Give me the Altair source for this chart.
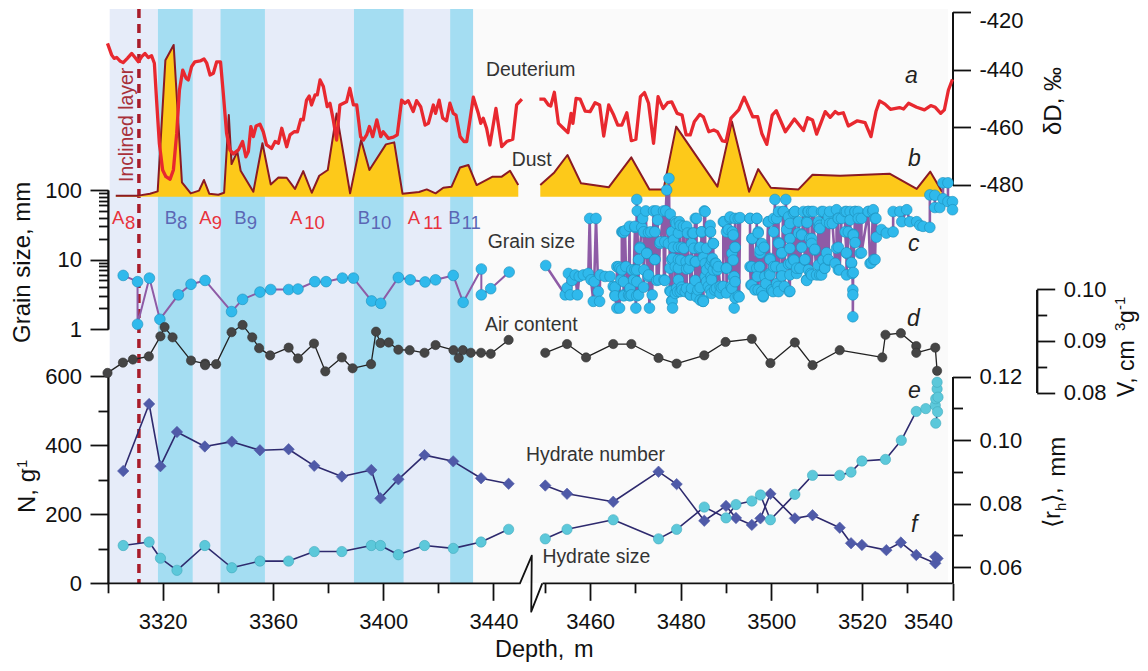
import altair as alt
import pandas as pd

FONT = "Liberation Sans"

# ---------- data ----------
light_zone = [(3300.8, 3432.6)]
blue_zones = [(3318.3, 3330.9), (3341.0, 3357.1), (3389.4, 3407.4), (3424.3, 3432.6)]
inclined_layer_depth = [3311.4]

deut_left = [(3300,-430.9),(3301.5,-434.9),(3302.4,-436.1),(3303.3,-435.8),(3304.5,-437),(3305.7,-437.6),(3307.2,-436.1),(3308.8,-434.4),(3310,-435.8),(3311.2,-437.3),(3312.4,-435.5),(3313.6,-434.4),(3314.8,-435.8),(3316,-435.2),(3317,-437.8),(3317.8,-450.6),(3318.8,-465.6),(3320,-474.9),(3321.2,-477.2),(3322.7,-478.1),(3323.9,-474.9),(3325.1,-462.2),(3326.1,-447.1),(3327.3,-440.2),(3328.5,-443),(3329.3,-443.6),(3330.5,-439),(3331.7,-437.3),(3333.6,-437),(3335,-436.3),(3336,-437.8),(3337.2,-441.9),(3338.4,-441.3),(3339.6,-437.3),(3341,-437.3),(3342,-448.3),(3343.2,-462.2),(3344.4,-467.9),(3345.6,-469.3),(3347.5,-467.9),(3349,-465),(3350.2,-470.3),(3351.1,-468.5),(3352,-459.8),(3352.9,-463.3),(3353.9,-459.6),(3355.3,-459),(3356.5,-461.6),(3357.7,-466.2),(3359.5,-467.4),(3360.8,-465),(3362,-465.6),(3363.2,-460.4),(3365,-466.8),(3366.2,-462.7),(3367.7,-461.6),(3368.9,-461.6),(3370.1,-457.3),(3371,-457.5),(3372.2,-450.6),(3373.2,-449.2),(3374,-452.3),(3375.3,-448.8),(3376.1,-448.8),(3377.1,-443.6),(3378.3,-445.9),(3379.7,-452.9),(3380.7,-451.7),(3381.9,-457.5),(3383.1,-464.5),(3384.3,-452.3),(3386.7,-451.2),(3387.9,-446.5),(3389.2,-452.3),(3390.4,-452.3),(3391.8,-463.3),(3392.8,-464.5),(3394,-462.7),(3395,-459.8),(3396.2,-463.3),(3397.7,-457.5),(3399.1,-463.3),(3400,-461.6),(3401.9,-463.9),(3403.7,-463.5),(3405.1,-462.7),(3406.7,-450.6),(3407.9,-451.7),(3409.1,-450.8),(3410.9,-454.6),(3412.1,-450.8),(3413.6,-452.9),(3415.2,-459.3),(3416.4,-458.7),(3418.2,-452.3),(3419,-455.2),(3420.3,-450.6),(3421.6,-456.9),(3423,-457.8),(3424.2,-451.7),(3425.4,-455.2),(3426.4,-455.8),(3427.9,-463.3),(3429.3,-465),(3430.3,-465),(3432.7,-449.6),(3434.5,-455.2),(3435.4,-458.7),(3436.3,-456.9),(3437.5,-460.4),(3438.7,-466.2),(3440.9,-453.5),(3443,-466.8),(3444.8,-465),(3447,-464.2),(3448.4,-452.3),(3450.3,-450.3)]
deut_right = [(3448.8,-450.3),(3449.9,-450.3),(3450.8,-452.3),(3451.3,-452.7),(3452.1,-447.9),(3453,-458.7),(3454.1,-460.4),(3455.1,-461.9),(3455.8,-455.2),(3456.2,-458.7),(3456.9,-450),(3457.8,-450.3),(3458.9,-454.4),(3460,-454.6),(3461.1,-451.5),(3462.1,-452.3),(3463,-463.1),(3464.1,-452.3),(3465.2,-455.8),(3466.1,-459.3),(3467,-459.3),(3468.1,-455),(3469.1,-464.7),(3470.1,-464.2),(3471.1,-449.4),(3472,-448),(3472.9,-451.7),(3474,-465.6),(3475,-449.4),(3476.1,-453.5),(3477.1,-451.5),(3478,-451.2),(3479.2,-455.2),(3480.3,-455.8),(3481.2,-462.7),(3482.1,-462.7),(3483,-458.1),(3484.2,-455.6),(3485,-456.4),(3486.2,-461.6),(3487.3,-461),(3488.1,-461.6),(3489.2,-464.8),(3490,-465),(3491.1,-456.9),(3492.8,-454),(3494,-449.6),(3495.9,-456.4),(3497,-456.4),(3497.9,-462.2),(3499,-466),(3500.2,-455.8),(3501.1,-454.3),(3503.1,-461.6),(3505.1,-457.2),(3507.1,-461.2),(3508,-456.7),(3509.1,-457.5),(3510,-462.4),(3511.9,-454.6),(3513,-456.6),(3514.1,-454.6),(3514.8,-455.4),(3515.9,-455),(3517,-459.6),(3519,-457.8),(3520.7,-458.4),(3522,-463.3),(3523.1,-454.6),(3523.9,-450.9),(3525.1,-452),(3526.3,-453.8),(3528.3,-453.2),(3529.2,-453.7),(3530.3,-451.7),(3532.1,-453.1),(3533.8,-454),(3535.2,-452.5),(3536.2,-453.1),(3537.4,-455.2),(3538.2,-454),(3539.1,-447.1),(3540,-443.4)]

dust_left = [(3303,0.7),(3311.2,0.7),(3315.4,2),(3318.2,3.5),(3321,90),(3324,100),(3327,9.5),(3330.2,2.2),(3333.2,4),(3335,11),(3336.9,2),(3340.2,1.3),(3342.3,2.6),(3344,53.8),(3345,21.5),(3347.1,29.7),(3348.3,17.1),(3352.9,3.3),(3356.2,35.2),(3359.2,8.1),(3362,12.7),(3365,12.5),(3368,5.1),(3371,16.9),(3374.1,2.6),(3376.8,13.8),(3379.9,17.6),(3383.1,54.9),(3388,2.2),(3392,37.4),(3395,17.6),(3401,34.5),(3404,35.8),(3407,2),(3413,3.1),(3415.8,4.8),(3419,2.2),(3421.8,5.9),(3424.8,6.6),(3427.9,19.3),(3430.9,20.9),(3433.9,7.7),(3439.7,13.2),(3443,13.2),(3446,17.1),(3449,7.7)]
dust_right = [(3449,7.7),(3452.1,16),(3455,27.5),(3458,8.8),(3464.1,6.2),(3469.1,25.9),(3473.1,4.8),(3476.2,4.8),(3479,46.2),(3488.1,6.6),(3491.3,49.5),(3495.1,3.3),(3497.1,18.2),(3499.9,5.9),(3506,4.8),(3509.1,14.5),(3515.2,13.8),(3526.1,15.2),(3532.1,5.1),(3535.1,16.5),(3537.7,3.3)]

grain_left = [(3305.7,5.9),(3310.9,4.8),(3310.9,1.17),(3315.2,5.4),(3319,1.38),(3325.7,3.1),(3330.3,4.4),(3335.4,5.0),(3345,1.78),(3349,2.67),(3355.3,3.4),(3359.2,3.7),(3365.7,3.7),(3369.1,3.76),(3375.2,4.8),(3379.3,4.8),(3385.2,5.4),(3389.2,5.4),(3395.8,2.53),(3399.1,2.34),(3405.5,5.5),(3409.8,5.1),(3415.2,4.75),(3419,5.1),(3425.4,5.9),(3429,2.42),(3435.6,7.3),(3435.6,3.1),(3439,3.8),(3445.7,6.6)]
grain_right = [(3450.2,8.2),(3454.5,3.1),(3454.9,3.9),(3455.2,6.3),(3455.6,3.1),(3456,5.0),(3456.7,6.0),(3457.2,3.1),(3457.6,5.7),(3458.5,6.0),(3459.6,6.3),(3459.9,39),(3460.2,5.1),(3460.7,2.5),(3460.9,4.8),(3461.3,39),(3461.8,3.45),(3462.1,2.5),(3462.2,6.0),(3463.3,5.7),(3464.4,5.7),(3465.1,4.1),(3465.5,3.1),(3465.9,2.0),(3466.3,7.9),(3466.5,2.0),(3466.8,5.1),(3467,7.1),(3467.2,25),(3467.4,3.1),(3467.7,26),(3467.9,7.9),(3468.5,3.1),(3469.1,3.1),(3469.6,5.1),(3469.9,29),(3470.1,2.0),(3470.3,73),(3470.4,50),(3470.3,7.1),(3470.7,3.1),(3471,15),(3471.4,29),(3471.6,39),(3471.9,7.1),(3472.3,50),(3472.5,12.3),(3472.8,5.7),(3473.1,2.0),(3473.4,25),(3473.7,3.1),(3474,50),(3474.3,10),(3474.6,50),(3474.9,37),(3475.1,5.1),(3475.5,18),(3476.2,50),(3476.3,5.1),(3476.7,50),(3476.9,100),(3477.3,17),(3477.4,147),(3477.7,45),(3477.8,3.45),(3478.1,2.5),(3478.2,2.0),(3478.2,10.4),(3478.4,19),(3478.8,7.9),(3479,33),(3479.3,3.45),(3479.5,15),(3479.7,35),(3480,9.8),(3480.3,3.65),(3480.6,30),(3480.7,14.5),(3481,3.45),(3481.2,9.3),(3481.5,24),(3481.8,7.5),(3482.2,3.1),(3482.6,24),(3482.9,14.5),(3483.3,9.3),(3483.5,39),(3483.8,3.65),(3484.1,14.5),(3484.3,2.6),(3484.6,25),(3484.9,2.5),(3485.2,50),(3485.4,8.8),(3485.7,14.5),(3486.1,4.1),(3486.5,25),(3486.7,5.7),(3487,10.4),(3487.2,17),(3487.5,3.65),(3487.8,8.8),(3488.1,7.1),(3488.7,4.1),(3489.4,4.1),(3489.6,35),(3490.1,7.5),(3490.5,27),(3490.9,39),(3491.1,4.1),(3491.4,25),(3491.6,9.8),(3491.8,5.7),(3492,15),(3491.8,2.0),(3492.7,39),(3492.9,2.9),
 (3495.3,39),(3495.5,4.3),(3495.7,7.9),(3495.8,20),(3496.4,3.65),(3496.8,39),(3496.9,5.7),(3497.1,25),(3497.4,7.9),(3497.5,12.3),(3497.9,3.45),(3498.2,2.9),(3498.4,15),(3498.8,4.5),(3499.3,35),(3499.6,6.3),(3499.7,10.4),(3500.1,3.65),(3500.4,3.45),(3500.8,73),(3501,7.9),(3501.2,39),(3501.5,4.1),(3501.7,17),(3502.3,12.3),(3502.6,49),(3502.9,4.1),(3503.2,73),(3503.4,27),(3504,3.45),(3504.3,8.8),(3504.9,47),(3505,9.8),(3505.2,49),(3505.6,6.3),(3506,24),(3506.3,7.5),(3506.7,23),(3507.1,49),(3507.4,9.8),(3507.8,5.1),(3507.9,34),(3508.1,49),(3508.7,6.3),(3508.9,20),(3509.3,49),(3509.6,13.7),(3510,6.0),(3510.4,30),(3510.7,6.0),(3511.1,49),(3511.4,9.8),(3511.8,7.5),(3512.2,35),(3512.6,9.8),(3512.9,49),(3513.5,33),(3514.1,8.8),(3514.4,14.5),(3514.8,39),(3515.1,7.1),(3515.5,39),(3516.3,49),(3516.6,12.3),(3517,25),(3517.4,49),(3517.7,8.8),(3517.9,6.3),(3518.0,3.65),(3518.0,3.1),(3518.0,1.5),(3518.1,23),(3518.5,49),(3519.2,49),(3519.6,12.3),(3519.9,39),(3521.4,49),(3521.8,8.8),(3522.4,49),(3522.6,10),(3523.1,39),(3523.2,21),(3524.3,27),(3525.4,24),(3526.9,25),(3526.9,49),(3528.4,49),(3528.8,35),(3529.9,52),(3530.6,35),(3532.1,35),(3532.8,31),(3533.5,30),(3535,29),(3535,85),(3536.1,84),(3536.1,56),(3537.2,56),(3537.9,75),(3537.9,127),(3539,127),(3539,68),(3540,68),(3540,52)]
grain_right_more_a = [(3478.8,35),(3479.9,31),(3481.3,30),(3483.2,39),(3485.4,49),(3486.5,31),(3489.4,35),(3490.9,41),(3492,39),(3493.1,40),(3478,25),(3479.5,24),(3482.8,24),(3484.6,25),(3486.6,25),(3490.1,25),(3491.6,22.5),(3475.4,17),(3476.5,18),(3478.4,15),(3480.2,15),(3482.4,17),(3484.3,15),(3487.2,17),(3492,15),(3491.3,12.3),(3478,10),(3479.5,10),(3482.1,9.8),(3483.2,9.3),(3485,10.7),(3486.8,9.8),(3487.6,8.8),(3488.3,7.9),(3490.1,7.5),(3477.6,7.5),(3479.5,7.5),(3481.3,7.3),(3485.7,7.1),(3486.5,8.3),(3487.2,7.1),(3485.4,5.7),(3474.7,5),(3476.5,5),(3479.5,5.1),(3483.2,5),(3485.7,4.8),(3486.8,5.1),(3491.6,5.5),(3492,4.8),(3477.6,3.55),(3479.1,3.85),(3480.2,4),(3481.3,3.85),(3482.4,3.85),(3484.3,3.95),(3486.5,3.65),(3487.9,3.85),(3489,3.95),(3491.3,3.85),(3478.8,3.25),(3479.9,3.45),(3482.1,3.1),(3483.5,3.1),(3485,2.6),(3486.8,3.25),(3488.7,3.25),(3490.1,3.3),(3492,2.8),(3492.7,3),(3478,2.55),(3483.5,2.9),(3485,2.5),(3467,25),(3467.4,24.5),(3468.7,30),(3469.9,30),(3471.8,25),(3472.9,24.5),(3474.3,25),(3471,14.5),(3472.5,12.3),(3474.3,10),(3470.7,10),(3472.9,6),(3469.9,7.1),(3466.6,7.5),(3465.9,7.9),(3469.2,7.1),(3465.5,4),(3467.4,4.8),(3470.3,4.8),(3471.8,4),(3468.8,3.85),(3470.3,3),(3465.5,3),(3467.4,3),(3468.8,3)]
grain_right_more_b = [(3495.3,39),(3496.8,39),(3499.4,35),(3500.5,39),(3501.6,49),(3502.7,49),(3503.8,41),(3505.2,49),(3504.1,33),(3506,35),(3508.2,49),(3508.9,49),(3507.8,35),(3510.4,35),(3511.5,49),(3512.6,41),(3514.4,52),(3514.8,39),(3512.9,33),(3516.6,49),(3518.5,49),(3517.4,37),(3519.2,39),(3521.4,49),(3522.5,52),(3522.9,39),(3495.7,20),(3497.1,24),(3500.5,25),(3501.6,17.5),(3504.1,20),(3506.7,22.5),(3508.5,20),(3510.7,31),(3510.7,28),(3516.3,25),(3518.1,22.5),(3497.9,17),(3497.5,13.7),(3502.3,12.5),(3504.1,14.5),(3506.7,15),(3509.6,14),(3508.9,17),(3512.2,12.5),(3514.8,15),(3516.6,12.5),(3518.5,17.5),(3519.9,12.5),(3512.6,10),(3517.7,9),(3522.1,9),(3522.9,10),(3495.3,7.9),(3496.8,7.5),(3499.7,10),(3500.5,7.9),(3502.3,7.5),(3504.9,10),(3507.4,10),(3503.8,8.6),(3505.6,7.5),(3508.2,7.1),(3510.4,8.3),(3511.8,7.5),(3514.8,7.1),(3518.1,6.5),(3516.6,6),(3511.1,6),(3508.9,6),(3495.7,4.3),(3497.1,3.65),(3498.2,3),(3500.1,3.65),(3501.6,3.45),(3504.1,3.5),(3498.6,5.7),(3499.7,6),(3502.3,5.8),(3501.2,4.5),(3504.1,6),(3507.8,5)]
grain_r = sorted(grain_right + grain_right_more_a + grain_right_more_b, key=lambda p: p[0])

air_left = [(3300,0.0838),(3305.6,0.0858),(3309.2,0.0864),(3315,0.0870),(3319.2,0.0909),(3320.7,0.0927),(3323.6,0.0907),(3330.3,0.0862),(3335.4,0.0856),(3335.4,0.0853),(3339.4,0.0855),(3345,0.0917),(3349,0.0931),(3352.5,0.0907),(3355,0.0886),(3359,0.0872),(3365.7,0.0887),(3369.1,0.0866),(3374.9,0.0895),(3379,0.0841),(3385,0.0868),(3388.9,0.0847),(3395.6,0.0855),(3397.4,0.0918),(3399,0.0896),(3402,0.0897),(3405.5,0.0883),(3409.6,0.0882),(3415,0.0877),(3419,0.0892),(3425.5,0.0882),(3427.4,0.0867),(3428.9,0.0882),(3431.8,0.0877),(3435.5,0.0877),(3439,0.0875),(3445.5,0.0902)]
air_right = [(3450.1,0.0877),(3454.9,0.0894),(3459.1,0.0868),(3465.1,0.0894),(3469.1,0.0894),(3475.1,0.0867),(3479.1,0.0856),(3485.2,0.0872),(3489.9,0.0898),(3495.7,0.0904),(3499.8,0.0857),(3505.2,0.0897),(3509.1,0.0853),(3515.1,0.0882),(3524.5,0.0868),(3525.2,0.0912),(3528.6,0.0915),(3532,0.0890),(3532,0.0877),(3536.2,0.0887),(3536.6,0.0842)]

number_left = [(3305.7,325),(3315.1,519),(3319.2,339),(3325.2,438),(3335.3,396),(3345.1,410),(3355.3,385),(3365.7,388),(3375,340),(3385,309),(3395.7,328),(3399,246),(3405.5,301),(3415,371),(3425.4,353),(3435.5,304),(3445.5,288)]
number_right = [(3450.1,283),(3454.9,259),(3465.1,236),(3475.1,323),(3479.1,287),(3485.2,181),(3490,224),(3492.2,189),(3495.7,169),(3497.6,188),(3499.8,259),(3505.2,188),(3509.1,197),(3515.1,161),(3517.6,116),(3520,111),(3525.4,96),(3528.6,118),(3532,82),(3536.2,58),(3536.7,72),(3536.2,77)]

size_left = [(3305.7,0.0668),(3315.1,0.0679),(3319.2,0.0628),(3325.2,0.0590),(3335.3,0.0668),(3345.1,0.0598),(3355.3,0.0619),(3365.7,0.0619),(3375,0.0649),(3385,0.0649),(3395.7,0.0668),(3399,0.0668),(3405.5,0.0639),(3415,0.0668),(3425.4,0.0659),(3435.5,0.0679),(3445.5,0.0719)]
size_right = [(3450.1,0.0689),(3454.9,0.0719),(3465.1,0.0749),(3475.1,0.0689),(3479.1,0.0719),(3485.2,0.0789),(3490,0.0755),(3492.2,0.0797),(3495.7,0.0808),(3497.6,0.0827),(3499.8,0.0749),(3505.2,0.0829),(3509.1,0.0889),(3515.1,0.0889),(3517.6,0.0899),(3520,0.0934),(3525.2,0.0939),(3528.7,0.0999),(3532,0.1090),(3534.1,0.1099),(3536.2,0.1109),(3536.3,0.1130),(3536.6,0.1161),(3536.6,0.1182),(3536.8,0.1135),(3536.7,0.1089),(3536.3,0.1053)]

break_left = [(3300,0),(3449.6,0),(3453.9,80),(3453.7,-82),(3457.7,0)]
axis_right = [(3449.5,0),(3540,0)]

zone_labels = [("A","8",112,125,"#E8323C"),("B","8",164.7,177,"#5B67B5"),("A","9",199.3,211.7,"#E8323C"),("B","9",234.3,246.7,"#5B67B5"),
               ("A","10",290,304.3,"#E8323C"),("B","10",357.7,370.7,"#5B67B5"),("A","11",407.7,423.3,"#E8323C"),("B","11",448.3,461.7,"#5B67B5")]

# ---------- scales (chart-local pixels = page pixels - 8) ----------
W, H = 1132, 654
XL = alt.Scale(domain=[3300, 3460], range=[99.5, 540.6], nice=False, zero=False)
XR = alt.Scale(domain=[3449, 3541], range=[532.3, 949.03], nice=False, zero=False)
Y_D = alt.Scale(domain=[-480, -420], range=[176.7, 4], nice=False, zero=False)
Y_DUST = alt.Scale(domain=[0, 100], range=[188.7, 37], nice=False, zero=False)
Y_G = alt.Scale(type="log", domain=[1, 100], range=[321, 182], nice=False)
Y_V = alt.Scale(domain=[0.08, 0.10], range=[384.5, 281.4], nice=False, zero=False)
Y_N = alt.Scale(domain=[-100, 600], range=[575.3 + 34.55, 368], nice=False, zero=False)
Y_N_AXIS = alt.Scale(domain=[0, 600], range=[575.3, 368], nice=False, zero=False)
Y_R = alt.Scale(domain=[0.055, 0.12], range=[575, 368.5], nice=False, zero=False)
XR_AXIS = alt.Scale(domain=[3449, 3540], range=[532.3, 944.5], nice=False, zero=False)

def frame(pairs):
    return pd.DataFrame({"d": [p[0] for p in pairs], "v": [p[1] for p in pairs], "i": range(len(pairs))})

def enc(xs, ys):
    return dict(x=alt.X("d:Q", scale=xs, axis=None),
                y=alt.Y("v:Q", scale=ys, axis=None),
                order=alt.Order("i:Q"))

def line(pairs, xs, ys, color, width):
    return alt.Chart(frame(pairs)).mark_line(color=color, strokeWidth=width, strokeJoin="round").encode(**enc(xs, ys))

def dots(pairs, xs, ys, fill, size, stroke, shape="circle"):
    return alt.Chart(frame(pairs)).mark_point(shape=shape, filled=True, fill=fill, size=size, stroke=stroke,
                                              strokeWidth=0.6, opacity=1).encode(
        x=alt.X("d:Q", scale=xs, axis=None), y=alt.Y("v:Q", scale=ys, axis=None))

def area(pairs, xs, ys, color):
    df = frame(pairs)
    df["b"] = 0
    return alt.Chart(df).mark_area(fill=color, fillOpacity=1).encode(
        x=alt.X("d:Q", scale=xs, axis=None),
        y=alt.Y("v:Q", scale=ys, axis=None, stack=None),
        y2=alt.Y2("b:Q"))

def zone(pairs, xs, color):
    df = pd.DataFrame({"a": [p[0] for p in pairs], "b": [p[1] for p in pairs]})
    return alt.Chart(df).mark_rect(color=color).encode(
        x=alt.X("a:Q", scale=xs, axis=None), x2="b:Q", y=alt.value(1), y2=alt.value(575))

def text(s, x, y, size=19.4, color="#333333", align="left", angle=0, style="normal"):
    return alt.Chart(pd.DataFrame({"t": [0]})).mark_text(
        text=s, font=FONT, fontSize=size, color=color, align=align, baseline="alphabetic",
        angle=angle, fontStyle=style).encode(x=alt.value(x - 8), y=alt.value(y - 8))

def y_axis(ticks, scale, orient, px, tick, labels=True, expr="toString(datum.value)", shift=0):
    offset = -(px - 8) if orient == "left" else -(W - (px - 8))
    kw = dict(orient=orient, offset=offset, values=ticks, title=None, grid=False, domain=True,
              domainColor="#111111", domainWidth=2, tickColor="#111111", tickWidth=1.8, tickSize=tick,
              labels=labels, labelFont=FONT, labelFontSize=22, labelColor="#111111", labelPadding=8.5,
              labelOffset=shift)
    if labels:
        kw["labelExpr"] = expr
    return alt.Chart(pd.DataFrame({"v": ticks})).mark_point(opacity=0).encode(
        y=alt.Y("v:Q", scale=scale, axis=alt.Axis(**kw)))

def x_axis(ticks, scale, tick, labels=True):
    kw = dict(orient="bottom", offset=-(H - 575.3), values=ticks, title=None, grid=False, domain=False,
              tickColor="#111111", tickWidth=1.8, tickSize=tick, labels=labels, labelFont=FONT,
              labelFontSize=22, labelColor="#111111", labelPadding=11, labelOverlap=False)
    if labels:
        kw["labelExpr"] = "toString(datum.value)"
    return alt.Chart(pd.DataFrame({"d": ticks})).mark_point(opacity=0).encode(
        x=alt.X("d:Q", scale=scale, axis=alt.Axis(**kw)))

# ---------- layers ----------
layers = [
    zone([(3432.6, 3460)], XL, "#FAFAFA"),
    zone([(3449, 3539)], XR, "#FAFAFA"),
    zone(light_zone, XL, "#E6ECF9"),
    zone(blue_zones, XL, "#A4DDF2"),
    alt.Chart(pd.DataFrame({"d": inclined_layer_depth})).mark_rule(
        color="#A81C2A", strokeWidth=3.5, strokeDash=[9, 6]).encode(
        x=alt.X("d:Q", scale=XL, axis=None), y=alt.value(1), y2=alt.value(575)),
    area(dust_left, XL, Y_DUST, "#FDC91A"),
    area(dust_right, XR, Y_DUST, "#FDC91A"),
    line(dust_left, XL, Y_DUST, "#8B1A23", 2),
    line(dust_right, XR, Y_DUST, "#8B1A23", 2),
    line(deut_left, XL, Y_D, "#E8282F", 3.3),
    line(deut_right, XR, Y_D, "#E8282F", 3.3),
    line(grain_left, XL, Y_G, "#8E5BA6", 2),
    line(grain_r, XR, Y_G, "#8E5BA6", 2.6),
    dots(grain_left, XL, Y_G, "#2FB9EC", 115, "#1C8FBA"),
    dots(grain_r, XR, Y_G, "#2FB9EC", 115, "#1C8FBA"),
    line(air_left, XL, Y_V, "#222222", 1.3),
    line(air_right, XR, Y_V, "#222222", 1.3),
    dots(air_left, XL, Y_V, "#454545", 86, "#333333"),
    dots(air_right, XR, Y_V, "#454545", 86, "#333333"),
    line(number_left, XL, Y_N, "#2E2A6E", 1.6),
    line(number_right, XR, Y_N, "#2E2A6E", 1.6),
    line(size_left, XL, Y_R, "#2E2A6E", 1.6),
    line(size_right, XR, Y_R, "#2E2A6E", 1.6),
    dots(number_left, XL, Y_N, "#4F5AA8", 130, "#4F5AA8", "diamond"),
    dots(number_right, XR, Y_N, "#4F5AA8", 130, "#4F5AA8", "diamond"),
    dots(size_left, XL, Y_R, "#5CC8DA", 106, "#3FA9BC"),
    dots(size_right, XR, Y_R, "#5CC8DA", 106, "#3FA9BC"),
    # axes
    y_axis([-480, -460, -440], Y_D, "right", 952.5, 18),
    y_axis([-420], Y_D, "right", 952.5, 18, shift=8),
    y_axis([1, 10, 100], Y_G, "left", 108, 18),
    y_axis([2, 3, 4, 5, 6, 7, 8, 9, 20, 30, 40, 50, 60, 70, 80, 90], Y_G, "left", 108, 9.5, labels=False),
    y_axis([0.08, 0.09, 0.10], Y_V, "right", 1036.7, 18, expr="format(datum.value, '.2f')"),
    y_axis([0.085, 0.095], Y_V, "right", 1036.7, 10, labels=False),
    y_axis([0, 200, 400, 600], Y_N_AXIS, "left", 108, 18),
    y_axis([100, 300, 500], Y_N_AXIS, "left", 108, 10, labels=False),
    y_axis([0.06, 0.08, 0.10, 0.12], Y_R, "right", 952.5, 18, expr="format(datum.value, '.2f')"),
    y_axis([0.07, 0.09, 0.11], Y_R, "right", 952.5, 10, labels=False),
    x_axis([3320, 3360, 3400, 3440], XL, 17),
    x_axis([3300, 3340, 3380, 3420], XL, 9.5, labels=False),
    x_axis([3460, 3480, 3500, 3520, 3540], XR_AXIS, 17),
    x_axis([3450, 3470, 3490, 3510, 3530], XR_AXIS, 9.5, labels=False),
    line(break_left, XL, Y_N, "#111111", 1.8),
    line(axis_right, XR_AXIS, Y_N, "#111111", 1.8),
    # curve names
    text("Deuterium", 486, 76),
    text("Dust", 511.7, 165.7),
    text("Grain size", 487.7, 248),
    text("Air content", 485, 330.7),
    text("Hydrate number", 526, 460.7),
    text("Hydrate size", 542.4, 562.7),
    text("a", 905, 82.7, 23, "#222222", style="italic"),
    text("b", 908, 165.7, 23, "#222222", style="italic"),
    text("c", 908, 250.7, 23, "#222222", style="italic"),
    text("d", 907, 326, 23, "#222222", style="italic"),
    text("e", 908, 397.7, 23, "#222222", style="italic"),
    text("f", 911, 531.7, 23, "#222222", style="italic"),
    text("Inclined layer", 133, 182, 19.4, "#A8303A", angle=270),
    # axis titles
    text("Depth,", 495, 656.5, 23.5, "#111111"),
    text("m", 574, 656.5, 23.5, "#111111"),
    text("Grain size, mm", 30, 343, 24, "#111111", angle=270),
    text("N, g", 35, 513, 24, "#111111", angle=270),
    text("-1", 27, 473, 15, "#111111", angle=270),
    text("δD, ‰", 1060.7, 135, 24, "#111111", angle=270),
    text("V, cm", 1134, 397, 23, "#111111", angle=270),
    text("3", 1125, 331, 15, "#111111", angle=270),
    text("g", 1134, 323, 23, "#111111", angle=270),
    text("-1", 1125, 310, 15, "#111111", angle=270),
    text("⟨r", 1060, 528, 24, "#111111", angle=270),
    text("h", 1066, 511, 15, "#111111", angle=270),
    text("⟩,", 1060, 503, 24, "#111111", angle=270),
    text("mm", 1065, 476.7, 24, "#111111", angle=270),
]
for main, sub, x0, x1, col in zone_labels:
    layers.append(text(main, x0, 224, 18.5, col))
    layers.append(text(sub, x1, 229, 18.5, col))

chart = alt.layer(*layers).resolve_scale(x="independent", y="independent").properties(
    width=W, height=H, padding=0, autosize=alt.AutoSizeParams(type="none")
).configure_view(stroke=None)

chart.save("out.html", embed_options={"renderer": "svg", "actions": False})
